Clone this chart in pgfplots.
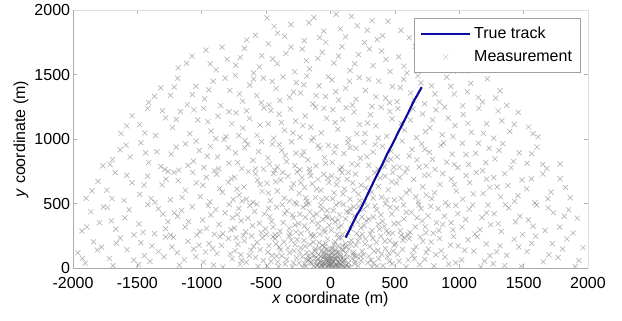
\documentclass[border=0pt]{standalone}
\usepackage{fontspec}
\setmainfont{Liberation Sans}
\usepackage{pgfplots}
\usepackage{pgfplotstable}
\pgfplotsset{compat=1.18}
\definecolor{track}{RGB}{12,12,160}
\definecolor{meas}{RGB}{110,110,110}
\pgfplotsset{
  longline legend/.style={legend image code/.code={\draw[##1] (0pt,0pt) -- (37pt,0pt);}},
  longmark legend/.style={legend image code/.code={\draw[mark repeat=2,mark phase=2,##1] plot coordinates {(0pt,0pt) (18.5pt,0pt) (37pt,0pt)};}},
}

\pgfplotstableread{
x y
-1962 118
-1841 203
-1905 37
-1779 162
-1718 74
-1633 231
-1580 142
-1689 18
-1473 196
-1402 52
-1336 128
-1281 240
-1445 95
-1232 163
-1174 21
-1108 207
-1046 88
-1190 119
-1021 176
-987 45
-943 189
-881 112
-836 7
-792 228
-915 152
-764 71
-858 244
-741 133
-702 28
-668 211
-631 96
-597 167
-563 12
-528 236
-689 59
-612 248
-545 141
-719 184
-582 83
-492 15
-478 173
-455 96
-431 228
-409 47
-388 140
-362 201
-341 66
-318 118
-296 8
-274 182
-263 79
-447 241
-398 162
-352 31
-305 215
-283 134
-420 92
-244 38
-231 156
-219 87
-206 212
-193 14
-182 119
-171 61
-160 183
-148 35
-139 244
-127 97
-118 148
-106 22
-97 71
-88 196
-79 43
-71 128
-63 9
-56 84
-49 162
-42 31
-36 110
-30 57
-25 17
-19 142
-14 73
-9 38
-5 95
-3 12
-67 22
-112 51
-158 76
-23 225
-84 6
-131 15
-52 44
-201 33
-15 61
-38 190
4 27
11 88
17 151
22 46
29 7
35 203
41 64
48 119
54 19
61 171
68 39
74 98
83 233
91 11
99 137
107 58
116 189
124 26
133 82
142 147
151 4
161 214
170 69
179 121
188 33
197 176
206 91
215 16
226 241
237 57
246 130
58 52
13 122
95 44
138 9
33 75
71 14
188 97
120 166
-102 18
-77 59
-61 33
-44 92
-28 6
-17 48
-8 21
3 66
12 35
19 9
31 101
39 28
47 77
56 12
66 41
79 88
87 24
103 61
115 7
-93 104
-33 72
25 52
-54 118
8 112
62 126
-118 76
91 142
258 103
271 224
289 41
306 167
322 5
339 129
357 198
374 72
391 246
408 18
426 151
443 87
461 212
479 34
496 178
315 61
368 137
452 116
507 191
533 53
559 144
586 9
612 227
638 98
664 165
691 26
717 207
743 120
574 238
651 71
761 147
803 16
847 229
889 84
932 178
973 40
818 103
956 245
1018 62
1069 219
1113 131
1167 8
1209 187
1238 95
1263 33
1318 172
1369 98
1427 221
1481 14
1527 127
1594 246
1653 48
1722 189
1768 81
1836 224
1901 11
1962 158
-1931 287
-1862 436
-1794 352
-1731 468
-1668 301
-1597 389
-1526 257
-1488 342
-1419 491
-1367 266
-1302 418
-1263 359
-1241 255
-1187 401
-1129 318
-1074 474
-1015 283
-1156 446
-993 372
-951 483
-902 261
-866 338
-819 427
-774 296
-929 411
-787 492
-746 309
-712 461
-677 252
-641 387
-606 328
-571 494
-538 273
-513 419
-694 366
-589 438
-497 261
-471 398
-446 317
-418 472
-392 286
-367 351
-339 443
-314 268
-288 389
-263 496
-431 258
-356 421
-276 332
-247 344
-229 268
-212 471
-196 392
-178 297
-161 436
-143 362
-126 254
-109 418
-92 311
-76 487
-59 376
-43 279
-27 445
-11 331
-168 499
-84 261
-35 398
7 293
21 447
36 356
52 262
69 412
83 328
101 491
117 381
134 277
152 459
169 339
186 403
203 268
219 477
236 312
58 372
144 431
244 395
262 328
287 481
309 264
333 396
358 452
381 301
404 363
427 497
451 271
476 418
494 343
297 379
436 287
514 463
542 288
571 381
603 257
629 432
658 319
686 489
713 366
741 274
567 489
758 404
797 269
836 461
871 338
914 483
951 296
988 421
823 352
1022 317
1078 457
1121 263
1176 391
1223 489
1244 336
1271 421
1326 284
1384 466
1437 358
1492 259
1538 373
1601 488
1667 291
1731 429
1781 317
1849 452
1917 386
-1898 541
-1806 672
-1738 603
-1672 739
-1603 524
-1541 661
-1482 571
-1421 712
-1363 508
-1308 644
-1262 747
-1244 529
-1183 678
-1127 602
-1069 741
-1012 553
-991 641
-937 512
-884 727
-839 588
-793 664
-756 531
-744 703
-709 566
-672 628
-638 747
-601 509
-567 681
-531 594
-687 519
-493 657
-468 522
-441 734
-413 597
-386 683
-358 541
-331 712
-304 619
-276 506
-259 744
-243 578
-222 701
-201 624
-183 517
-161 743
-142 652
-118 546
-97 688
-74 601
-53 727
-31 539
-12 663
9 713
28 582
47 646
68 504
89 739
108 612
129 688
151 534
172 659
194 728
217 571
238 642
263 517
291 694
318 588
344 739
372 632
397 549
423 712
449 606
474 669
496 527
512 658
548 539
579 742
614 603
646 687
682 512
717 629
744 566
763 721
808 583
851 648
894 507
938 689
977 597
1027 533
1081 662
1133 741
1186 578
1237 624
1268 701
1322 552
1377 639
1429 517
1488 683
1524 614
1587 506
1649 729
1713 588
1783 692
1862 546
-1768 792
-1712 803
-1634 917
-1556 861
-1473 971
-1412 818
-1349 902
-1286 764
-1237 883
-1179 758
-1126 962
-1064 829
-1018 911
-983 779
-932 942
-878 861
-827 996
-789 812
-902 755
-738 893
-689 771
-643 958
-602 834
-558 903
-521 767
-664 987
-487 853
-452 961
-413 784
-379 912
-341 826
-303 978
-268 891
-432 758
-239 763
-207 902
-176 839
-148 988
-113 792
-82 927
-47 856
-16 951
14 818
41 941
73 763
104 887
136 972
167 806
198 928
232 851
261 974
297 796
332 899
369 767
403 943
438 832
471 906
492 781
518 862
557 984
596 773
634 919
671 838
709 962
742 791
768 897
812 764
857 951
903 821
946 883
989 778
1024 967
1073 802
1127 889
1181 754
1232 928
1277 846
1338 964
1403 778
1466 893
1527 812
1604 938
1681 771
1783 806
-1627 1043
-1541 1181
-1483 1112
-1421 1236
-1358 1027
-1281 1164
-1227 1089
-1164 1213
-1092 1041
-1031 1148
-986 1237
-927 1062
-874 1176
-812 1018
-766 1119
-733 1203
-681 1084
-629 1159
-571 1029
-517 1242
-484 1117
-441 1006
-398 1193
-357 1068
-312 1231
-271 1139
-236 1014
-197 1178
-153 1092
-116 1247
-72 1048
-31 1161
18 1227
57 1076
96 1152
141 1003
183 1209
226 1113
268 1043
309 1188
352 1102
394 1246
437 1021
478 1157
523 1236
574 1069
621 1147
668 1011
716 1194
772 1087
819 1226
867 1033
914 1162
968 1104
1031 1189
1094 1052
1152 1238
1213 1118
1268 1007
1331 1141
1392 1059
1458 1206
1538 1093
1612 1017
-1412 1283
-1318 1396
-1243 1338
-1187 1471
-1112 1267
-1046 1409
-978 1312
-912 1448
-853 1259
-781 1376
-739 1493
-682 1294
-627 1418
-573 1337
-521 1472
-477 1264
-423 1391
-368 1481
-319 1323
-266 1437
-232 1356
-184 1488
-137 1271
-89 1412
-38 1329
12 1458
63 1302
118 1394
171 1263
224 1477
271 1376
322 1252
374 1449
428 1318
481 1407
517 1289
568 1463
623 1357
679 1491
731 1273
784 1412
846 1286
903 1479
961 1349
1027 1258
1089 1431
1148 1322
1219 1467
1283 1318
1369 1261
-1183 1553
-1076 1642
-967 1689
-889 1537
-802 1618
-736 1571
-668 1703
-597 1512
-534 1646
-482 1738
-413 1584
-346 1663
-278 1521
-219 1697
-163 1543
-98 1624
-36 1749
27 1588
89 1716
152 1531
217 1654
264 1747
331 1569
397 1682
463 1523
529 1637
594 1512
658 1718
723 1581
781 1549
857 1673
928 1597
1047 1528
1126 1603
-583 1804
-493 1938
-411 1821
-307 1887
-204 1763
-129 1942
-52 1836
43 1967
117 1792
208 1878
286 1843
362 1771
447 1912
612 1786
-1927 74
-1812 139
-1663 192
-1528 61
-1491 27
-1387 171
-1293 86
-1219 238
-1136 64
-1063 147
-971 124
-908 23
-847 176
-779 109
-733 234
-654 44
-618 137
-571 199
-521 58
-697 102
-487 123
-462 51
-423 187
-379 94
-331 156
-287 39
-259 221
-403 11
-321 247
-238 121
-217 5
-196 168
-174 92
-152 47
-133 201
-121 134
-99 31
-86 157
-74 88
-58 13
-46 67
-34 143
-21 99
-11 26
-61 177
-142 112
-187 64
6 149
16 64
27 183
38 17
52 97
63 234
77 66
93 171
109 3
122 112
139 39
156 186
174 104
193 51
214 209
233 91
43 139
101 83
267 187
298 92
329 231
361 14
397 106
422 207
458 51
487 131
334 36
521 104
563 214
604 62
647 138
698 241
732 67
782 201
861 133
917 29
991 171
1043 139
1139 243
1197 52
1291 126
1352 19
1463 163
1561 191
1696 102
1803 147
1929 58
-1893 318
-1764 473
-1702 366
-1564 452
-1456 277
-1337 459
-1281 304
-1213 427
-1102 361
-1037 256
-964 307
-891 453
-837 267
-761 388
-724 414
-659 281
-627 486
-553 347
-507 303
-481 462
-457 362
-402 254
-374 491
-321 307
-296 412
-268 279
-238 417
-203 326
-187 491
-152 258
-134 403
-99 346
-67 456
-49 299
-19 392
14 381
42 489
61 313
92 259
126 436
159 302
181 474
211 356
247 261
256 454
278 366
321 291
346 482
392 412
418 323
463 471
482 269
371 338
527 347
588 431
617 276
672 389
704 461
735 319
549 253
779 478
842 291
886 402
937 351
973 486
1049 376
1104 489
1161 297
1212 428
1302 344
1358 491
1471 401
1574 324
1692 466
1816 401
1884 271
-1852 598
-1697 539
-1582 718
-1448 643
-1393 538
-1277 689
-1216 741
-1153 547
-1041 659
-964 703
-861 616
-771 692
-726 611
-653 533
-582 729
-547 647
-482 581
-426 668
-371 741
-319 518
-287 652
-231 661
-192 544
-154 714
-107 611
-66 529
-23 696
17 537
58 689
97 574
139 741
183 603
226 521
276 621
331 543
386 698
437 529
483 741
537 702
589 584
663 552
729 718
786 538
872 732
961 646
1053 717
1109 574
1212 689
1294 628
1353 731
1457 561
1561 691
1688 537
1824 624
-1693 841
-1588 952
-1436 893
-1317 787
-1198 937
-1107 796
-1043 983
-957 867
-869 769
-793 932
-721 817
-668 932
-583 768
-536 979
-474 806
-398 956
-352 871
-277 793
-221 873
-164 768
-97 948
-38 812
29 896
88 781
152 933
211 799
283 862
347 958
419 786
468 842
536 781
612 869
689 783
733 921
792 842
879 969
962 803
1052 879
1149 967
1206 817
1309 912
1421 826
1562 886
1649 803
-1583 1102
-1442 1047
-1306 1219
-1198 1152
-1061 1226
-953 1134
-891 1003
-789 1211
-712 1027
-652 1219
-548 1108
-463 1221
-381 1128
-292 1047
-214 1103
-132 1009
-52 1238
36 1128
121 1242
204 1041
289 1124
371 1007
462 1213
549 1122
641 1233
737 1056
793 1148
887 1247
951 1019
1067 1121
1188 1044
1302 1218
1427 1113
1574 1041
-1367 1331
-1214 1402
-1072 1344
-946 1381
-818 1472
-707 1349
-598 1464
-538 1282
-452 1447
-393 1298
-287 1363
-207 1421
-111 1337
-17 1483
41 1367
147 1447
199 1308
297 1463
353 1327
459 1281
542 1398
648 1301
702 1436
811 1349
934 1408
1063 1367
1182 1287
1318 1374
-1118 1587
-934 1583
-842 1711
-701 1632
-553 1558
-449 1621
-307 1712
-187 1608
-64 1671
62 1643
188 1582
302 1698
431 1617
571 1564
691 1653
819 1611
953 1527
1082 1571
-651 1768
-438 1873
-356 1796
-168 1901
-84 1787
77 1854
163 1951
323 1918
404 1801
547 1842
}\meas

\pgfplotstableread{
x y
118 236
150 300
183 368
205 412
228 448
251 492
279 551
306 608
335 668
362 722
391 780
418 836
442 888
468 935
497 992
523 1046
551 1100
578 1152
604 1204
629 1256
651 1302
668 1330
686 1362
709 1402
}\track

\begin{document}
\fontsize{12}{14.4}\selectfont
\begin{tikzpicture}
\begin{axis}[
  scale only axis,
  width=386.25pt, height=193.5pt,
  xmin=-2000, xmax=2000, ymin=0, ymax=2000,
  xtick={-2000,-1500,...,2000},
  ytick={0,500,...,2000},
  tick align=inside,
  major tick length=3pt,
  tick style={gray!60, line width=0.5pt},
  axis line style={gray!25, line width=0.6pt},
  /pgf/number format/assume math mode=true,
  /pgf/number format/1000 sep={},
  tick label style={font=\fontsize{12}{14.4}\selectfont},
  xticklabel style={yshift=-2.5pt},
  yticklabel style={xshift=2pt},
  label style={font=\fontsize{12}{14.4}\selectfont},
  xlabel={\textit{x} coordinate (m)},
  ylabel={\textit{y} coordinate (m)},
  xlabel style={at={(axis description cs:0.5,-0.120)}, anchor=center},
  ylabel style={at={(axis description cs:-0.101,0.5)}, anchor=center},
  clip marker paths=true,
  legend cell align=left,
  legend style={at={(axis description cs:1,1)}, anchor=north east,
    xshift=-5.25pt, yshift=-6pt, draw=gray!75, line width=0.5pt, fill=white,
    font=\fontsize{12}{14.4}\selectfont, inner xsep=4.5pt, inner ysep=4.5pt,
    row sep=3pt},
]
\addlegendimage{track, line width=1.6pt, longline legend}
\addlegendentry{True track}
\addlegendimage{only marks, mark=x, mark size=2.7pt, color=meas,
  mark options={draw opacity=0.3, line width=0.5pt}, longmark legend}
\addlegendentry{Measurement}
\addplot[only marks, mark=x, mark size=2.7pt, color=meas,
  mark options={draw opacity=0.5, line width=0.5pt}, forget plot] table {\meas};
\addplot[track, line width=1.6pt, forget plot] table {\track};
\end{axis}
\draw[gray!65, line width=0.6pt] (current axis.north west) -- (current axis.south west) -- (current axis.south east);
\pgfresetboundingbox
\path[use as bounding box] ([xshift=-54.75pt,yshift=-39.75pt]current axis.south west) rectangle ([xshift=25.5pt,yshift=7.5pt]current axis.north east);
\end{tikzpicture}
\end{document}
